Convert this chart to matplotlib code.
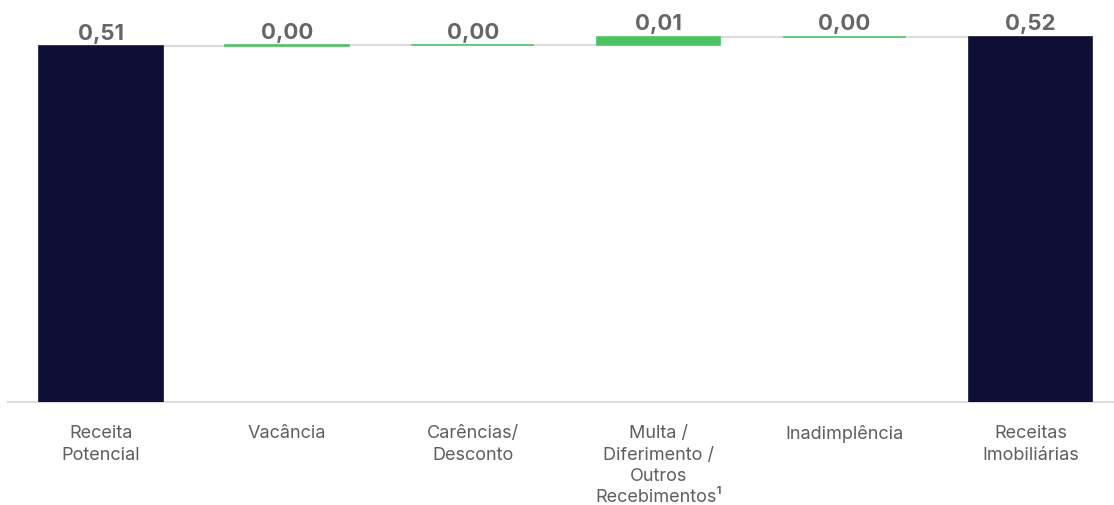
import numpy as np
import matplotlib.pyplot as plt

plt.rcParams["font.family"] = ["Inter", "DejaVu Sans"]

categories = [
    "Receita\nPotencial",
    "Vacância",
    "Carências/\nDesconto",
    "Multa /\nDiferimento /\nOutros\nRecebimentos¹",
    "Inadimplência",
    "Receitas\nImobiliárias",
]
start_value = 0.511
deltas = [0.0008, 0.0006, 0.0118, 0.0003]

navy = "#0f0e35"
green = "#4cc262"
grey_line = "#dcdcdc"
label_grey = "#666666"

# cumulative levels of the waterfall
levels = start_value + np.cumsum([0.0] + deltas)
end_value = levels[-1]

bottoms = [0.0] + list(levels[:-1]) + [0.0]
heights = [start_value] + deltas + [end_value]
colors = [navy] + [green] * len(deltas) + [navy]
values = [start_value] + deltas + [end_value]

fig = plt.figure(figsize=(11.14, 5.06), dpi=100)
ax = fig.add_axes([8 / 1114, 1 - 403 / 506, 1 - 8 / 1114, 403 / 506])

x = np.arange(len(categories))
width = 0.664
ax.bar(x, heights, bottom=bottoms, width=width, color=colors,
       edgecolor=colors, linewidth=1.2, zorder=3)

# connectors between consecutive bars
tops = [b + h for b, h in zip(bottoms, heights)]
for i in range(len(x) - 1):
    level = tops[i]
    ax.plot([x[i] + width / 2, x[i + 1] - width / 2], [level, level],
            color=grey_line, lw=1.6, solid_capstyle="butt", zorder=2)

for xi, top, v in zip(x, tops, values):
    ax.annotate(f"{v:.2f}".replace(".", ","), (xi, top),
                xytext=(0, 2.5), textcoords="offset points",
                ha="center", va="bottom", fontsize=16, fontweight="bold",
                color=label_grey)

ax.set_xlim(-0.5, 5.45)
ax.set_ylim(0, 403 / (356 / start_value))
ax.set_yticks([])
ax.set_xticks(x)
ax.set_xticklabels(categories, fontsize=13, color="#5e5e5e", linespacing=1.34)
ax.tick_params(axis="x", length=0, pad=16)
for side in ["top", "right", "left"]:
    ax.spines[side].set_visible(False)
ax.spines["bottom"].set_color(grey_line)
ax.spines["bottom"].set_linewidth(1.5)

fig.savefig("out.png", dpi=100)
